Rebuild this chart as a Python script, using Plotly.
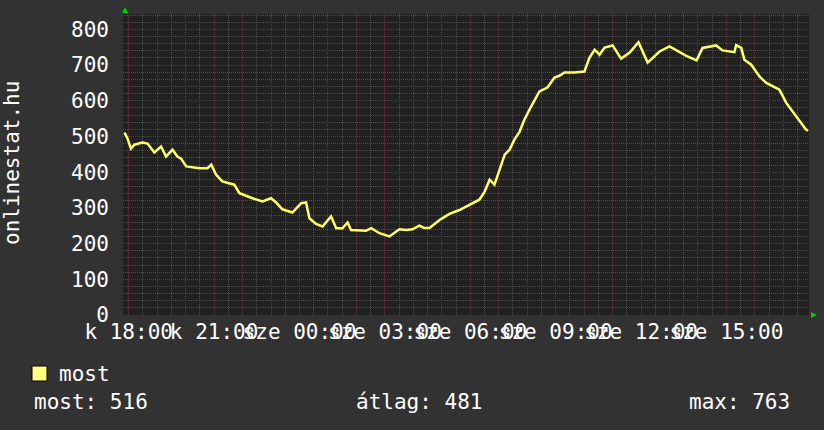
import plotly.graph_objects as go

# ---- data (hours since 18:00 of day 1, visitors) ----
hours = [-0.15, -0.05, 0.08, 0.20, 0.48, 0.66, 0.90, 1.14, 1.31, 1.54, 1.71, 1.84, 2.02, 2.48, 2.77,
         2.90, 3.07, 3.29, 3.71, 3.89, 4.35, 4.70, 5.00, 5.18, 5.40, 5.75, 6.06, 6.23, 6.35, 6.58,
         6.81, 7.11, 7.29, 7.51, 7.69, 7.81, 8.34, 8.52, 8.81, 9.16, 9.51, 9.75, 9.97, 10.21, 10.39,
         10.57, 10.92, 11.27, 11.62, 11.97, 12.32, 12.50, 12.68, 12.85, 13.03, 13.21, 13.38, 13.55,
         13.73, 13.90, 14.08, 14.26, 14.43, 14.71, 14.96, 15.13, 15.31, 15.66, 16.01, 16.19, 16.37,
         16.54, 16.72, 17.00, 17.30, 17.60, 17.91, 18.23, 18.65, 19.00, 19.59, 19.95, 20.16, 20.64,
         20.86, 21.28, 21.34, 21.52, 21.63, 21.87, 22.16, 22.40, 22.86, 23.10, 23.45, 23.80, 23.87]
visitors = [511, 496, 466, 477, 483, 480, 455, 472, 444, 463, 444, 438, 416, 411, 411,
            421, 393, 374, 365, 341, 327, 318, 327, 315, 296, 287, 313, 315, 271, 255,
            248, 276, 243, 243, 259, 238, 236, 243, 229, 220, 240, 238, 240, 250, 244,
            244, 266, 283, 294, 309, 323, 345, 379, 365, 407, 449, 463, 491,
            513, 547, 575, 603, 626, 637, 665, 670, 679, 679, 682, 721, 743,
            729, 749, 755, 718, 735, 764, 707, 738, 752, 726, 713, 748, 755,
            741, 736, 756, 748, 715, 701, 668, 650, 631, 594, 556, 519, 516]

tick_hours = list(range(0, 24))
minor_hours = [h + 0.5 for h in range(-1, 24)]
tick_labels = {0: "k 18:00", 3: "k 21:00", 6: "sze 00:00", 9: "sze 03:00",
               12: "sze 06:00", 15: "sze 09:00", 18: "sze 12:00", 21: "sze 15:00"}
y_ticks = [0, 100, 200, 300, 400, 500, 600, 700, 800]
y_minor = [v for v in range(0, 860, 20) if v % 100]

series_name = "most"
axis_title = "onlinestat.hu"
stat_now = 516
stat_avg = 481
stat_max = 763

# ---- layout constants ----
W, H = 824, 430
ML, MR, MT, MB = 123, 15, 14, 115
PW, PH = W - ML - MR, H - MT - MB
FONT = "DejaVu Sans Mono"


def px(x):
    return (x - ML) / PW


def py(y):
    return (H - MB - y) / PH


fig = go.Figure()
fig.add_trace(go.Scatter(x=hours, y=visitors, mode="lines",
                         line=dict(color="#ffff66", width=2.5), hoverinfo="skip",
                         showlegend=False))

fig.update_layout(
    width=W, height=H,
    margin=dict(l=ML, r=MR, t=MT, b=MB, autoexpand=False),
    paper_bgcolor="#323232", plot_bgcolor="#212121",
    font=dict(family=FONT, size=21, color="#ffffff"),
    showlegend=False,
)
fig.update_xaxes(
    range=[-0.2, 23.9], automargin=False,
    tickmode="array", tickvals=tick_hours,
    ticktext=[tick_labels.get(h, "") for h in tick_hours],
    tickangle=0, ticks="", ticklabelstandoff=2,
    showgrid=True, gridcolor="#703434", griddash="1px,1px", gridwidth=1,
    minor=dict(tickmode="array", tickvals=minor_hours, showgrid=True,
               gridcolor="#505050", griddash="1px,1px"),
    zeroline=False, showline=False,
    tickfont=dict(family=FONT, size=21, color="#ffffff"),
)
fig.update_yaxes(
    range=[0, 843], automargin=False,
    tickmode="array", tickvals=y_ticks, ticktext=[str(v) for v in y_ticks],
    ticks="", ticklabelstandoff=13,
    showgrid=True, gridcolor="#703434", griddash="1px,1px", gridwidth=1,
    minor=dict(tickmode="array", tickvals=y_minor, showgrid=True,
               gridcolor="#505050", griddash="1px,1px"),
    zeroline=False, showline=False,
    tickfont=dict(family=FONT, size=21, color="#ffffff"),
)

shapes = []
# green arrows
shapes.append(dict(type="path", xref="paper", yref="paper",
                   path=f"M {px(122)} {py(13)} L {px(128)} {py(13)} L {px(125)} {py(7)} Z",
                   fillcolor="#00cc00", line=dict(width=0)))
shapes.append(dict(type="path", xref="paper", yref="paper",
                   path=f"M {px(811)} {py(312)} L {px(811)} {py(318)} L {px(817)} {py(315)} Z",
                   fillcolor="#00cc00", line=dict(width=0)))
# legend square
shapes.append(dict(type="rect", xref="paper", yref="paper",
                   x0=px(32), x1=px(47), y0=py(381), y1=py(366),
                   fillcolor="#ffff80", line=dict(color="#000000", width=1)))
fig.update_layout(shapes=shapes)

ann = []
ann.append(dict(text=axis_title, xref="paper", yref="paper", x=px(12), y=py(163),
                textangle=-90, showarrow=False, xanchor="center", yanchor="middle",
                font=dict(family=FONT, size=21, color="#ffffff")))
ann.append(dict(text=series_name, xref="paper", yref="paper", x=px(57), y=py(374),
                showarrow=False, xanchor="left", yanchor="middle",
                font=dict(family=FONT, size=21, color="#ffffff")))
ann.append(dict(text=f"most: {stat_now}", xref="paper", yref="paper", x=px(32), y=py(402),
                showarrow=False, xanchor="left", yanchor="middle",
                font=dict(family=FONT, size=21, color="#ffffff")))
ann.append(dict(text=f"átlag: {stat_avg}", xref="paper", yref="paper", x=px(354), y=py(402),
                showarrow=False, xanchor="left", yanchor="middle",
                font=dict(family=FONT, size=21, color="#ffffff")))
ann.append(dict(text=f"max: {stat_max}", xref="paper", yref="paper", x=px(792), y=py(402),
                showarrow=False, xanchor="right", yanchor="middle",
                font=dict(family=FONT, size=21, color="#ffffff")))
fig.update_layout(annotations=ann)

fig.write_html("out.html", config={"displayModeBar": False},
               post_script="document.body.style.margin='0';")
